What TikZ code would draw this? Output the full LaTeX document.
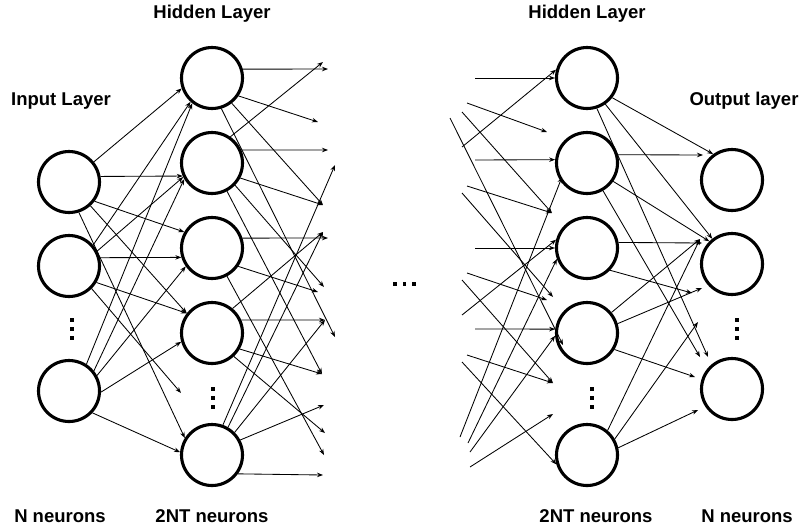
\documentclass[tikz,border=0pt]{standalone}
\usepackage{fontspec}
\setmainfont{Liberation Sans}
\usetikzlibrary{arrows.meta}
\begin{document}
\begin{tikzpicture}[x=1pt,y=-1pt,
  neuron/.style={circle,draw,line width=3.1pt,minimum size=61pt,inner sep=0pt},
  conn/.style={line width=0.85pt,-{Stealth[length=6pt,width=4.5pt]}},
  lbl/.style={font=\fontsize{18.5}{20}\selectfont\bfseries,inner sep=0pt},
  dotsq/.style={fill,minimum width=3.8pt,minimum height=4.2pt,inner sep=0pt}]
\useasboundingbox (0,0) rectangle (799,531);

% labels
\node[lbl] (tH1) at (212,14) {Hidden Layer};
\node[lbl] (tH2) at (587,14) {Hidden Layer};
\node[lbl] (tIn) at (61,101) {Input Layer};
\node[lbl] (tOut) at (744,101) {Output layer};
\node[lbl] (bN1) at (60,516) {N neurons};
\node[lbl] (b2N1) at (212,516) {2NT neurons};
\node[lbl] (b2N2) at (596,516) {2NT neurons};
\node[lbl] (bN2) at (747,516) {N neurons};

% neurons
\node[neuron] (I1) at (69,182) {};
\node[neuron] (I2) at (69,266) {};
\node[neuron] (I3) at (69,391) {};
\foreach \i/\y in {1/78,2/163,3/248,4/333,5/455}{
  \node[neuron] (H\i) at (212,\y) {};
  \node[neuron] (G\i) at (587,\y) {};
}
\node[neuron] (O1) at (732,180) {};
\node[neuron] (O2) at (732,264) {};
\node[neuron] (O3) at (732,389) {};

% vertical dots
\foreach \n/\x/\y in {dI/72/320,dH/213/389,dG/592/389,dO/737/320}{
  \node[dotsq] (\n a) at (\x,\y) {};
  \node[dotsq] (\n b) at (\x,\y+9) {};
  \node[dotsq] (\n c) at (\x,\y+18) {};
}
% middle ellipsis
\node[dotsq] (m1) at (395,284) {};
\node[dotsq] (m2) at (404.5,284) {};
\node[dotsq] (m3) at (414,284) {};

% ---------- input -> hidden 1 ----------
\coordinate (hd) at (181,393);
\draw[conn] (I1.39) -- (H1.199);
\draw[conn] (I1.10) -- (H2.204);
\draw[conn] (I1.-37) -- (H3.150);
\draw[conn] (I1.-48) -- (H4.142);
\draw[conn] (I1.-72) -- (H5.148);
\draw[conn] (I2.41) -- (H1.228);
\draw[conn] (I2.28) -- (H2.206);
\draw[conn] (I2.15) -- (H3.197);
\draw[conn] (I2.-31) -- (H4.142);
\draw[conn] (I2.-45) -- (hd);
\draw[conn] (I3.57) -- (H1.232);
\draw[conn] (I3.39) -- (H2.210);
\draw[conn] (I3.29) -- (H3.215);
\draw[conn] (I3.-2) -- (H4.196);
\draw[conn] (I3.-43) -- (H5.175);

% ---------- hidden 1 -> dangling ----------
\coordinate (e1) at (328,69);
\coordinate (e2) at (323,62);
\coordinate (e3) at (318,122);
\coordinate (e4) at (328,150);
\coordinate (e5) at (335,165);
\coordinate (e6) at (323,205);
\coordinate (e7) at (323,232);
\coordinate (e8) at (328,238);
\coordinate (e9) at (324,287);
\coordinate (e10) at (318,292);
\coordinate (e11) at (325,320);
\coordinate (e12) at (335,337);
\coordinate (e13) at (322,374);
\coordinate (e15) at (324,405);
\coordinate (e16) at (325,433);
\coordinate (e17) at (324,455);
\coordinate (e18) at (323,475);
\draw[conn] (H1.16) -- (e1);
\draw[conn] (H1.-34) -- (e3);
\draw[conn] (H1.-52) -- (e6);
\draw[conn] (H1.-73) -- (e12);
\draw[conn] (H2.55) -- (e2);
\draw[conn] (H2.24) -- (e4);
\draw[conn] (H2.-28) -- (e6);
\draw[conn] (H2.-44) -- (e9);
\draw[conn] (H2.-62) -- (e13);
\draw[conn] (H3.18) -- (e8);
\draw[conn] (H3.-35) -- (e10);
\draw[conn] (H3.-62) -- (e17);
\draw[conn] (H4.50) -- (e7);
\draw[conn] (H4.24) -- (e11);
\draw[conn] (H4.-30) -- (e13);
\draw[conn] (H4.-47) -- (e16);
\draw[conn] (H5.70) -- (e5);
\draw[conn] (H5.60) -- (e7);
\draw[conn] (H5.45) -- (e11);
\draw[conn] (H5.28) -- (e15);
\draw[conn] (H5.-36) -- (e18);

% ---------- dangling -> hidden 2 ----------
\coordinate (s1) at (475,78);
\coordinate (s2) at (467,103);
\coordinate (s3) at (462,147);
\coordinate (s4) at (462,112);
\coordinate (s5) at (467,186);
\coordinate (s6) at (450,118);
\coordinate (s7) at (475,160);
\coordinate (s8) at (462,193);
\coordinate (s9) at (475,248);
\coordinate (s10) at (462,315);
\coordinate (s11) at (467,273);
\coordinate (s12) at (462,280);
\coordinate (s13) at (475,329);
\coordinate (s14) at (467,355);
\coordinate (s15) at (462,362);
\coordinate (s16) at (470,467);
\coordinate (s17) at (460,437);
\coordinate (s18) at (468,443);
\coordinate (s19) at (470,452);
\coordinate (c1) at (547,132);
\coordinate (c2) at (552,213);
\coordinate (c3) at (563,345);
\coordinate (c4) at (553,297);
\coordinate (c5) at (547,300);
\coordinate (c6) at (553,383);
\coordinate (c7) at (553,414);
\coordinate (c8) at (562,177);
\draw[conn] (s1) -- (G1.180);
\draw[conn] (s2) -- (c1);
\draw[conn] (s3) -- (G1.165);
\draw[conn] (s4) -- (c2);
\draw[conn] (s5) -- (c2);
\draw[conn] (s6) -- (c3);
\draw[conn] (s7) -- (G2.174);
\draw[conn] (s8) -- (c4);
\draw[conn] (s9) -- (G3.180);
\draw[conn] (s10) -- (G3.165);
\draw[conn] (s11) -- (c5);
\draw[conn] (s12) -- (c6);
\draw[conn] (s13) -- (G4.173);
\draw[conn] (s14) -- (c6);
\draw[conn] (s15) -- (G5.197);
\draw[conn] (s16) -- (c7);
\draw[conn] (s17) -- (c8);
\draw[conn] (s18) -- (G3.200);
\draw[conn] (s19) -- (G4.185);

% ---------- hidden 2 -> output ----------
\coordinate (f0) at (703,155);
\coordinate (f1) at (692,293);
\coordinate (f2) at (698,322);
\coordinate (f3) at (700,357);
\coordinate (f4) at (708,357);
\coordinate (f5) at (702,243);
\coordinate (f6) at (700,239);
\coordinate (f7) at (702,288);
\coordinate (f8) at (695,377);
\coordinate (f9) at (698,410);
\draw[conn] (G1.-38) -- (O1.126);
\draw[conn] (G1.-55) -- (O2.128);
\draw[conn] (G1.-72) -- (f4);
\draw[conn] (G2.15) -- (f0);
\draw[conn] (G2.-35) -- (O2.135);
\draw[conn] (G2.-60) -- (f3);
\draw[conn] (G3.10) -- (f5);
\draw[conn] (G3.-44) -- (f1);
\draw[conn] (G4.40) -- (f6);
\draw[conn] (G4.17) -- (f7);
\draw[conn] (G4.-31) -- (f8);
\draw[conn] (G5.50) -- (f6);
\draw[conn] (G5.30) -- (f2);
\draw[conn] (G5.13) -- (f9);
\end{tikzpicture}
\end{document}
